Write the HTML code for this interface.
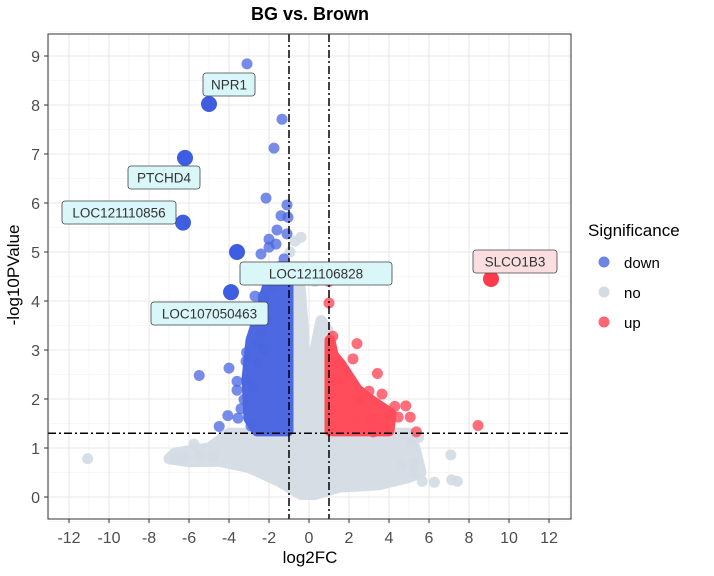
<!DOCTYPE html>
<html><head><meta charset="utf-8"><style>
body{margin:0;background:#fff;font-family:"Liberation Sans",Arial,sans-serif;}
svg text{font-family:"Liberation Sans",Arial,sans-serif;}
</style></head><body>
<svg id="chart" width="714" height="571" viewBox="0 0 714 571" xmlns="http://www.w3.org/2000/svg">
<text x="310" y="20" text-anchor="middle" font-size="18" font-weight="bold" fill="#000">BG vs. Brown</text>
<g id="grid"></g><g id="clouds"></g><g id="pts"></g><g id="thr"></g><g id="labels"></g><g id="axes"></g>
<text x="310" y="563" text-anchor="middle" font-size="17" fill="#000">log2FC</text>
<text transform="translate(19,275) rotate(-90)" text-anchor="middle" font-size="17" fill="#000">-log10PValue</text>
<g>
<text x="588" y="236" font-size="17" fill="#000">Significance</text>
<circle cx="604" cy="262" r="5.5" fill="#4a66e2" fill-opacity="0.8"/>
<text x="624" y="268" font-size="15" fill="#000">down</text>
<circle cx="604" cy="292" r="5.5" fill="#d3dbe3"/>
<text x="624" y="298" font-size="15" fill="#000">no</text>
<circle cx="604" cy="322" r="5.5" fill="#ff4a5a" fill-opacity="0.85"/>
<text x="624" y="328" font-size="15" fill="#000">up</text>
</g>
</svg>
<script>
const xTicks=[-12,-10,-8,-6,-4,-2,0,2,4,6,8,10,12];
const yTicks=[0,1,2,3,4,5,6,7,8,9];
const greyCloud=[[-7.0,0.78],[-6.0,0.72],[-4.5,0.73],[-3,0.6],[-1.5,0.32],[-0.4,0.05],[0.3,0.05],[1.5,0.2],[3.5,0.25],[5,0.4],[5.6,0.5],[5.3,1.0],[5.0,1.3],[1,1.3],[0.95,3.4],[0.6,3.6],[0.3,3.0],[0.1,2.0],[-0.1,2.0],[-0.3,3.5],[-0.5,4.6],[-1,4.7],[-1,1.3],[-4,1.3],[-5,1.0],[-6.7,0.9]];
const blueCloud=[[-1.05,1.35],[-2.6,1.35],[-3.0,1.6],[-3.1,2.4],[-2.9,3.2],[-2.5,3.7],[-2.0,4.4],[-1.5,4.7],[-1.05,4.7]];
const redCloud=[[1.05,1.35],[4.0,1.35],[4.1,1.7],[3.0,2.0],[2.4,2.2],[1.6,2.7],[1.2,2.9],[1.05,3.2]];
const greyX=[-11.07,-6.73,-5.75,7.09,7.42,7.13,6.27,5.66,5.23,5.23,5.49,5.11,4.63,-0.7,-0.95,0.8,0.3,-0.4,1.3,-6.2,-5.5,-4.8,-6.5];
const greyY=[0.78,0.78,1.08,0.86,0.32,0.35,0.3,0.32,0.49,0.69,1.22,1.12,0.63,5.22,5.0,4.6,4.4,5.3,4.43,0.8,0.85,0.82,0.8];
const downX=[-3.1,-1.35,-1.75,-2.15,-1.1,-1.4,-1.05,-1.6,-1.1,-2.0,-1.65,-2.0,-2.4,-1.25,-2.7,-2.3,-5.49,-4.0,-3.12,-3.15,-2.56,-3.6,-3.6,-3.12,-4.06,-4.49,-3.55,-2.56,-2.25,-2.77,-3.25,-2.43,-2.08,-2.9,-3.4,-2.2,-1.8,-1.5];
const downY=[8.84,7.71,7.12,6.1,5.96,5.74,5.71,5.45,5.37,5.26,5.16,5.1,4.96,4.86,4.1,4.1,2.48,2.63,2.95,2.77,2.72,2.36,2.18,2.39,1.66,1.44,1.61,3.14,3.0,2.25,1.99,3.35,3.62,1.45,1.8,3.9,4.3,4.6];
const upX=[1.0,1.0,2.45,2.4,2.2,1.85,3.42,3.0,3.65,4.29,4.84,5.06,5.37,4.46,8.45,3.22,3.77,3.08,1.19,4.0,2.56,1.53,1.36];
const upY=[4.4,3.96,4.45,3.13,2.82,2.54,2.52,2.16,2.1,1.85,1.86,1.63,1.33,1.63,1.46,1.33,1.43,1.58,3.28,1.68,1.99,2.73,2.39];
const labNames=["NPR1","PTCHD4","LOC121110856","LOC121106828","LOC107050463","SLCO1B3"];
const labX=[-5.0,-6.2,-6.3,-3.6,-3.9,9.1];
const labY=[8.02,6.92,5.6,5.0,4.18,4.45];
const labSig=["down","down","down","down","down","up"];
const boxes=[[203,73,52],[128,166,72],[62,201,114],[240,262,152],[151,302,117],[473,250,84]];
const X=v=>309+v*20; const Y=v=>497-v*49;
const L=48,R=571,T=34,B=519;
const NS="http://www.w3.org/2000/svg";
function mk(tag,attrs,parent){const e=document.createElementNS(NS,tag);for(const k in attrs)e.setAttribute(k,attrs[k]);parent.appendChild(e);return e;}
const grid=document.getElementById('grid');
mk('rect',{x:L,y:T,width:R-L,height:B-T,fill:'#fff'},grid);
for(let v=-13;v<=13;v+=2){mk('line',{x1:X(v),x2:X(v),y1:T,y2:B,stroke:'#f4f4f4','stroke-width':0.8},grid);}
for(let v=-0.5;v<=9.5;v+=1){mk('line',{x1:L,x2:R,y1:Y(v),y2:Y(v),stroke:'#f4f4f4','stroke-width':0.8},grid);}
const axes=document.getElementById('axes');
xTicks.forEach(v=>{
 const gl=mk('line',{x1:X(v),x2:X(v),y1:T,y2:B,stroke:'#e8e8e8','stroke-width':1.1},grid);
 
 
 mk('line',{x1:X(v),x2:X(v),y1:B,y2:B+4,stroke:'#333'},axes);
 const t=mk('text',{x:X(v),y:B+24,'text-anchor':'middle','font-size':16,fill:'#4d4d4d'},axes);
 
 
 t.textContent=v;
});
yTicks.forEach(v=>{
 const gl=mk('line',{x1:L,x2:R,y1:Y(v),y2:Y(v),stroke:'#e8e8e8','stroke-width':1.1},grid);
 
 
 mk('line',{x1:L-4,x2:L,y1:Y(v),y2:Y(v),stroke:'#333'},axes);
 const t=mk('text',{x:L-8,y:Y(v)+6,'text-anchor':'end','font-size':16,fill:'#4d4d4d'},axes);
 
 
 t.textContent=v;
});
const pb=mk('rect',{x:L,y:T,width:R-L,height:B-T,fill:'none',stroke:'#333','stroke-width':1},axes);


const clouds=document.getElementById('clouds');
function cloud(arr,col,name){
 const p=mk('polygon',{points:arr.map(d=>X(d[0])+','+Y(d[1])).join(' '),fill:col,stroke:col,'stroke-width':11,'stroke-linejoin':'round'},clouds);
 
 
}
cloud(greyCloud,'#d6dde5','no-cloud');
cloud(blueCloud,'#4d68e0','down-cloud');
cloud(redCloud,'#ff4d5c','up-cloud');
const pts=document.getElementById('pts');
function series(xs,ys,col,op,name){xs.forEach((x,i)=>{
 const c=mk('circle',{cx:X(x),cy:Y(ys[i]),r:5.5,fill:col,'fill-opacity':op},pts);
 
 
});}
series(greyX,greyY,'#d3dbe3',0.9,'point-no');
series(downX,downY,'#4a66e2',0.75,'point-down');
series(upX,upY,'#ff4a5a',0.8,'point-up');
labX.forEach((x,i)=>{
 const c=mk('circle',{cx:X(x),cy:Y(labY[i]),r:8,fill:labSig[i]=='up'?'#ff3a4c':'#3f5de0'},pts);
 
 
});
const thr=document.getElementById('thr');
[[X(-1),T,X(-1),B],[X(1),T,X(1),B],[L,Y(1.3),R,Y(1.3)]].forEach(a=>{
 const l=mk('line',{x1:a[0],y1:a[1],x2:a[2],y2:a[3],stroke:'#000','stroke-width':1.5,'stroke-dasharray':'8,3,2,3'},thr);
 
 
});
const labs=document.getElementById('labels');
labNames.forEach((n,i)=>{
 const b=boxes[i];
 const r=mk('rect',{x:b[0],y:b[1],width:b[2],height:23,rx:3,fill:labSig[i]=='up'?'#fbdfe0':'#d9f6f9',stroke:'#444','stroke-width':0.8},labs);
 
 
 const t=mk('text',{x:b[0]+b[2]/2,y:b[1]+16.5,'text-anchor':'middle','font-size':13.5,fill:'#333'},labs);
 
 
 t.textContent=n;
});
</script>
</body></html>
